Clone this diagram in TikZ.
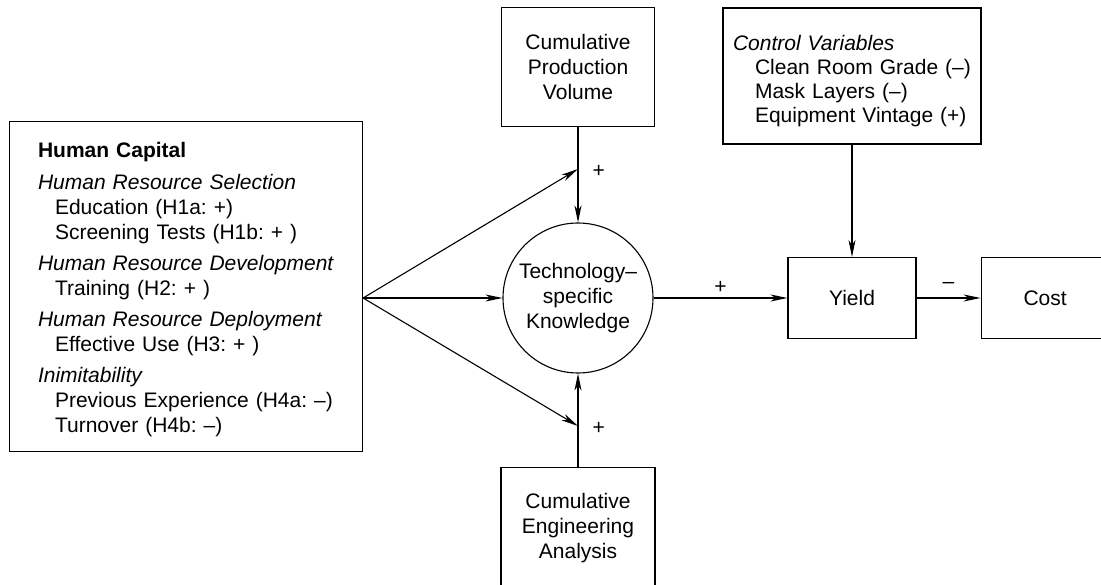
\documentclass[tikz,border=0pt]{standalone}
\usepackage{fontspec}
\setmainfont{Liberation Sans}
\usetikzlibrary{arrows.meta,positioning}
\frenchspacing

\begin{document}
\begin{tikzpicture}[
    x=1pt, y=-1pt,
    font=\fontsize{21}{25}\selectfont,
    line width=1.1pt,
    box/.style={draw, align=center, inner sep=0pt},
    knowledge/.style={draw, circle, minimum size=150pt, inner sep=0pt, align=center},
    listbox/.style={draw, align=left, inner ysep=0pt},
    arrow/.style={-{Stealth[length=17pt, width=7pt, inset=5pt]}},
    sign/.style={inner sep=2pt}
  ]
  \useasboundingbox (0,0) rectangle (1101,585);
  \clip (0,0) rectangle (1101,585);

  % Main components
  \node[knowledge] (know) at (578,298) {Technology–\\specific\\Knowledge};
  \node[box, minimum width=153pt, minimum height=119pt, above=95pt of know] (prod) {Cumulative\\Production\\Volume};
  \node[box, minimum width=154pt, minimum height=122pt, below=93pt of know] (eng) {Cumulative\\Engineering\\Analysis};
  \node[box, minimum width=128pt, minimum height=81pt] (yield) at (852,298) {Yield};
  \node[box, minimum width=128pt, minimum height=81pt, right=64pt of yield] (cost) {Cost};

  % Human capital list
  \node[listbox, anchor=north west, minimum width=353pt, minimum height=330pt, text width=330pt, inner xsep=11.5pt] (hc) at (9,121) {%
    \hspace*{17pt}\rule{0pt}{21.5pt}\textbf{Human Capital}\\[7pt]
    \hspace*{17pt}\textit{Human Resource Selection}\\
    \hspace*{34pt}Education (H1a: +)\\
    \hspace*{34pt}Screening Tests (H1b: + )\\[6pt]
    \hspace*{17pt}\textit{Human Resource Development}\\
    \hspace*{34pt}Training (H2: + )\\[6pt]
    \hspace*{17pt}\textit{Human Resource Deployment}\\
    \hspace*{34pt}Effective Use (H3: + )\\[6pt]
    \hspace*{17pt}\textit{Inimitability}\\
    \hspace*{34pt}Previous Experience (H4a: –)\\
    \hspace*{34pt}Turnover (H4b: –)};

  % Controls
  \node[listbox, minimum width=258pt, minimum height=136pt, text width=238pt, inner xsep=10pt, font=\fontsize{21}{24}\selectfont] (ctrl) at (852,76) {%
    \rule{0pt}{25pt}\textit{Control Variables}\\
    \hspace*{22pt}Clean Room Grade (–)\\
    \hspace*{22pt}Mask Layers (–)\\
    \hspace*{22pt}Equipment Vintage (+)};

  % Connections
  \coordinate (fan) at (hc.east |- know.west);
  \coordinate (upper) at (578,169);
  \coordinate (lower) at (578,426);
  \draw[arrow] (prod) -- node[sign, pos=0.46, right=12pt] {+} (know);
  \draw[arrow] (eng) -- node[sign, pos=0.41, right=12pt] {+} (know);
  \draw[arrow] (fan) -- (upper);
  \draw[arrow] (fan) -- (know);
  \draw[arrow] (fan) -- (lower);
  \draw[arrow] (know) -- node[sign, above, yshift=2pt] {+} (yield);
  \draw[arrow] (yield) -- node[sign, above, yshift=7pt] {–} (cost);
  \draw[arrow] (ctrl) -- (yield);

\end{tikzpicture}
\end{document}
